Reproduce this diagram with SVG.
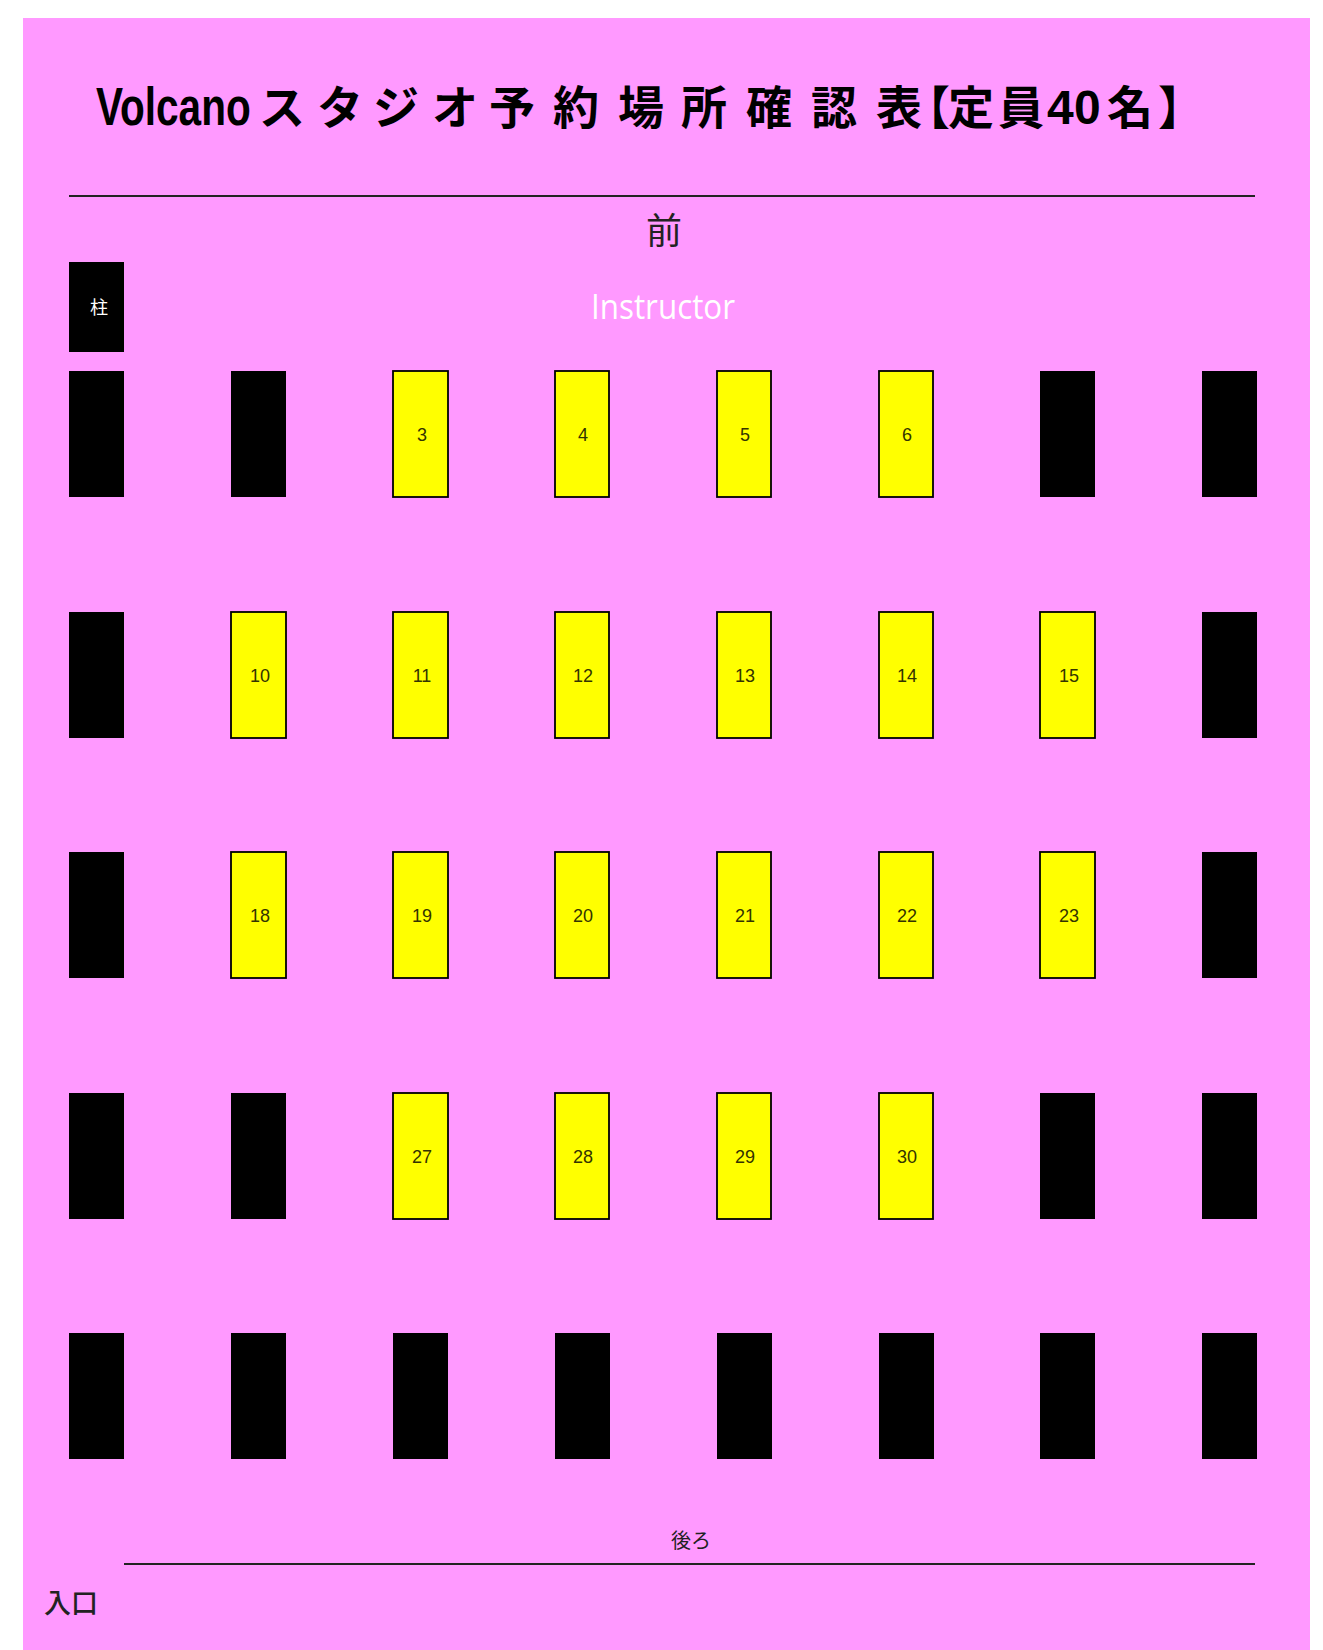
<svg xmlns="http://www.w3.org/2000/svg" width="1323" height="1650" viewBox="0 0 1323 1650">
<style>
.bg{fill:#FF99FF}
.rule{stroke:#222;stroke-width:2}
.free{fill:#FFFF00;stroke:#000;stroke-width:1.8}
.taken{fill:#000}
.num{font-family:"Liberation Sans",Arial,sans-serif;font-size:18px;fill:#333300;text-anchor:middle}
.jt{font-family:"Noto Sans CJK JP","Noto Sans",sans-serif;font-weight:bold;font-size:46px;fill:#000}
.lbl{font-family:"Noto Sans CJK JP","Noto Sans",sans-serif;fill:#222}
</style>
<rect width="1323" height="1650" fill="#fff"/>
<rect class="bg" x="23" y="18" width="1287" height="1632"/>
<g id="title">
<text transform="matrix(0.765 0 0 1 96 125)" font-family="Liberation Sans,Arial,sans-serif" font-weight="bold" font-size="53">Volcano</text>
<text class="jt" x="259 317 373 432 489 553 618 681 746 811 876 904 948 998" y="124">スタジオ予約場所確認表【定員</text>
<text x="1047 1074" y="124" font-family="Liberation Sans,Arial,sans-serif" font-weight="bold" font-size="48">40</text>
<text class="jt" x="1107 1158" y="124">名】</text>
</g>
<line class="rule" x1="69" y1="196" x2="1255" y2="196"/>
<text id="front" class="lbl" x="664" y="244" font-size="36" text-anchor="middle">前</text>
<text id="instructor" x="591" y="319" font-family="Open Sans,Noto Sans,sans-serif" font-size="34" fill="#fff" textLength="144" lengthAdjust="spacingAndGlyphs">Instructor</text>
<g id="pillar">
<rect class="taken" x="69" y="262" width="55" height="90"/>
<text class="lbl" x="99" y="314" font-size="18" style="fill:#fff" text-anchor="middle">柱</text>
</g>
<g id="seats">
<g id="seat1"><rect class="taken" x="69" y="371" width="55" height="126"/></g>
<g id="seat2"><rect class="taken" x="231" y="371" width="55" height="126"/></g>
<g id="seat3"><rect class="free" x="393" y="371" width="55" height="126"/><text class="num" x="422" y="441">3</text></g>
<g id="seat4"><rect class="free" x="555" y="371" width="54" height="126"/><text class="num" x="583" y="441">4</text></g>
<g id="seat5"><rect class="free" x="717" y="371" width="54" height="126"/><text class="num" x="745" y="441">5</text></g>
<g id="seat6"><rect class="free" x="879" y="371" width="54" height="126"/><text class="num" x="907" y="441">6</text></g>
<g id="seat7"><rect class="taken" x="1040" y="371" width="55" height="126"/></g>
<g id="seat8"><rect class="taken" x="1202" y="371" width="55" height="126"/></g>

<g id="seat9"><rect class="taken" x="69" y="612" width="55" height="126"/></g>
<g id="seat10"><rect class="free" x="231" y="612" width="55" height="126"/><text class="num" x="260" y="682">10</text></g>
<g id="seat11"><rect class="free" x="393" y="612" width="55" height="126"/><text class="num" x="422" y="682">11</text></g>
<g id="seat12"><rect class="free" x="555" y="612" width="54" height="126"/><text class="num" x="583" y="682">12</text></g>
<g id="seat13"><rect class="free" x="717" y="612" width="54" height="126"/><text class="num" x="745" y="682">13</text></g>
<g id="seat14"><rect class="free" x="879" y="612" width="54" height="126"/><text class="num" x="907" y="682">14</text></g>
<g id="seat15"><rect class="free" x="1040" y="612" width="55" height="126"/><text class="num" x="1069" y="682">15</text></g>
<g id="seat16"><rect class="taken" x="1202" y="612" width="55" height="126"/></g>

<g id="seat17"><rect class="taken" x="69" y="852" width="55" height="126"/></g>
<g id="seat18"><rect class="free" x="231" y="852" width="55" height="126"/><text class="num" x="260" y="922">18</text></g>
<g id="seat19"><rect class="free" x="393" y="852" width="55" height="126"/><text class="num" x="422" y="922">19</text></g>
<g id="seat20"><rect class="free" x="555" y="852" width="54" height="126"/><text class="num" x="583" y="922">20</text></g>
<g id="seat21"><rect class="free" x="717" y="852" width="54" height="126"/><text class="num" x="745" y="922">21</text></g>
<g id="seat22"><rect class="free" x="879" y="852" width="54" height="126"/><text class="num" x="907" y="922">22</text></g>
<g id="seat23"><rect class="free" x="1040" y="852" width="55" height="126"/><text class="num" x="1069" y="922">23</text></g>
<g id="seat24"><rect class="taken" x="1202" y="852" width="55" height="126"/></g>

<g id="seat25"><rect class="taken" x="69" y="1093" width="55" height="126"/></g>
<g id="seat26"><rect class="taken" x="231" y="1093" width="55" height="126"/></g>
<g id="seat27"><rect class="free" x="393" y="1093" width="55" height="126"/><text class="num" x="422" y="1163">27</text></g>
<g id="seat28"><rect class="free" x="555" y="1093" width="54" height="126"/><text class="num" x="583" y="1163">28</text></g>
<g id="seat29"><rect class="free" x="717" y="1093" width="54" height="126"/><text class="num" x="745" y="1163">29</text></g>
<g id="seat30"><rect class="free" x="879" y="1093" width="54" height="126"/><text class="num" x="907" y="1163">30</text></g>
<g id="seat31"><rect class="taken" x="1040" y="1093" width="55" height="126"/></g>
<g id="seat32"><rect class="taken" x="1202" y="1093" width="55" height="126"/></g>

<g id="seat33"><rect class="taken" x="69" y="1333" width="55" height="126"/></g>
<g id="seat34"><rect class="taken" x="231" y="1333" width="55" height="126"/></g>
<g id="seat35"><rect class="taken" x="393" y="1333" width="55" height="126"/></g>
<g id="seat36"><rect class="taken" x="555" y="1333" width="55" height="126"/></g>
<g id="seat37"><rect class="taken" x="717" y="1333" width="55" height="126"/></g>
<g id="seat38"><rect class="taken" x="879" y="1333" width="55" height="126"/></g>
<g id="seat39"><rect class="taken" x="1040" y="1333" width="55" height="126"/></g>
<g id="seat40"><rect class="taken" x="1202" y="1333" width="55" height="126"/></g>
</g>
<text id="back" class="lbl" x="691" y="1548" font-size="20" text-anchor="middle">後ろ</text>
<line class="rule" x1="124" y1="1564" x2="1255" y2="1564"/>
<text id="entrance" class="lbl" x="44" y="1613" font-size="27" font-weight="500">入口</text>
</svg>
